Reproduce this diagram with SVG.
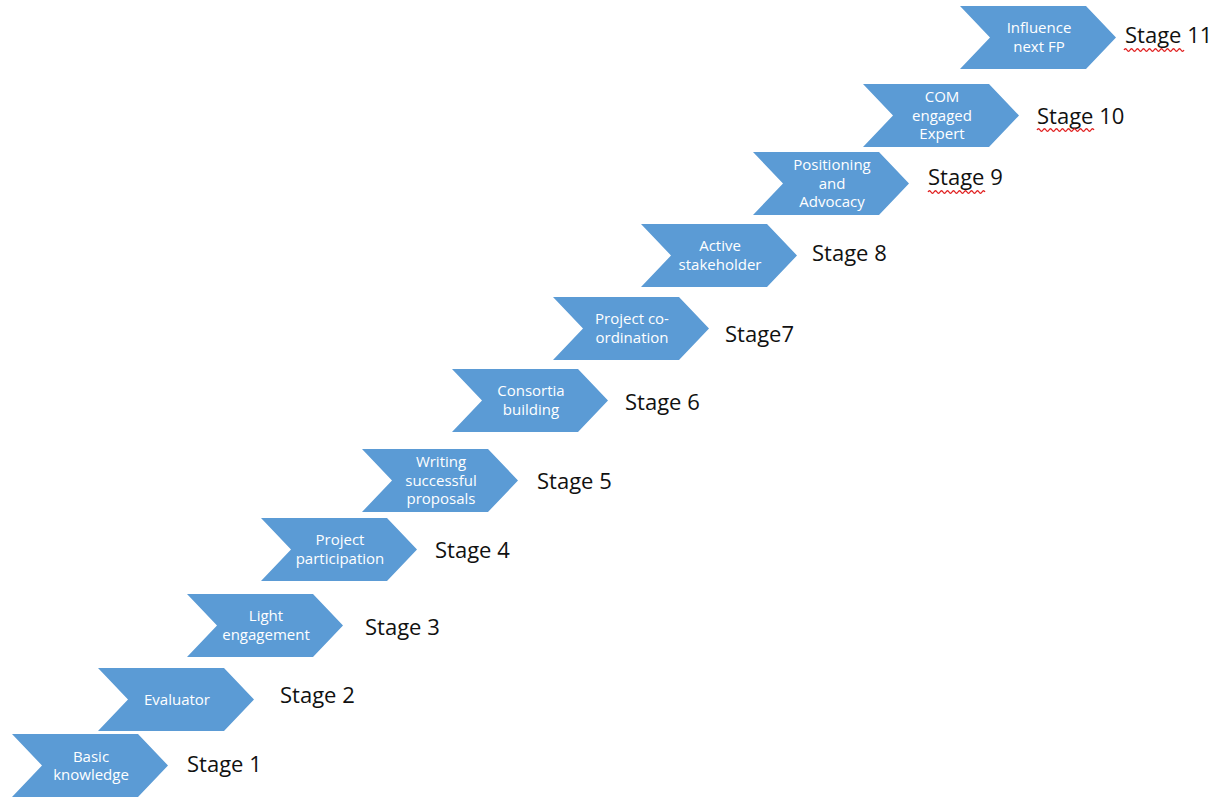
<svg xmlns="http://www.w3.org/2000/svg" xmlns:xlink="http://www.w3.org/1999/xlink" width="1217" height="797" viewBox="0 0 1217 797">
<style>
.chev{fill:#5B9BD5;}
.lbl{font-family:"Open Sans","Liberation Sans",sans-serif;font-size:15px;fill:#ffffff;text-anchor:middle;}
.stage{font-family:"Open Sans","Liberation Sans",sans-serif;font-size:22px;fill:#111111;}
.squig{fill:none;stroke:#e02020;stroke-width:1.3;}
</style>
<defs>
<path id="chev" d="M0,0 H126 L156,31.5 L126,63 H0 L30,31.5 Z"/>
</defs>
<rect width="1217" height="797" fill="#ffffff"/>
<g id="connectors"/>
<g id="stage1">
<use xlink:href="#chev" href="#chev" class="chev" transform="translate(12,734)"/>
<text class="lbl" x="91" y="761.5">Basic<tspan x="91" dy="18.5">knowledge</tspan></text>
<text class="stage" x="187" y="772">Stage 1</text>
</g>
<g id="stage2">
<use xlink:href="#chev" href="#chev" class="chev" transform="translate(98,668)"/>
<text class="lbl" x="177" y="704.5">Evaluator</text>
<text class="stage" x="280" y="703">Stage 2</text>
</g>
<g id="stage3">
<use xlink:href="#chev" href="#chev" class="chev" transform="translate(187,594)"/>
<text class="lbl" x="266" y="621.3">Light<tspan x="266" dy="18.5">engagement</tspan></text>
<text class="stage" x="365" y="635">Stage 3</text>
</g>
<g id="stage4">
<use xlink:href="#chev" href="#chev" class="chev" transform="translate(261,518)"/>
<text class="lbl" x="340" y="545.3">Project<tspan x="340" dy="18.5">participation</tspan></text>
<text class="stage" x="435" y="558">Stage 4</text>
</g>
<g id="stage5">
<use xlink:href="#chev" href="#chev" class="chev" transform="translate(362,449)"/>
<text class="lbl" x="441" y="467">Writing<tspan x="441" dy="18.5">successful</tspan><tspan x="441" dy="18.5">proposals</tspan></text>
<text class="stage" x="537" y="489">Stage 5</text>
</g>
<g id="stage6">
<use xlink:href="#chev" href="#chev" class="chev" transform="translate(452,369)"/>
<text class="lbl" x="531" y="396.3">Consortia<tspan x="531" dy="18.5">building</tspan></text>
<text class="stage" x="625" y="410">Stage 6</text>
</g>
<g id="stage7">
<use xlink:href="#chev" href="#chev" class="chev" transform="translate(553,297)"/>
<text class="lbl" x="632" y="324.3">Project co-<tspan x="632" dy="18.5">ordination</tspan></text>
<text class="stage" x="725" y="342">Stage7</text>
</g>
<g id="stage8">
<use xlink:href="#chev" href="#chev" class="chev" transform="translate(641,224)"/>
<text class="lbl" x="720" y="251.3">Active<tspan x="720" dy="18.5">stakeholder</tspan></text>
<text class="stage" x="812" y="261">Stage 8</text>
</g>
<g id="stage9">
<use xlink:href="#chev" href="#chev" class="chev" transform="translate(753,152)"/>
<text class="lbl" x="832" y="170">Positioning<tspan x="832" dy="18.5">and</tspan><tspan x="832" dy="18.5">Advocacy</tspan></text>
<text class="stage" x="928" y="185">Stage 9</text>
<path class="squig" d="M928,192 q1.5,-2.5 3,0 t3,0 t3,0 t3,0 t3,0 t3,0 t3,0 t3,0 t3,0 t3,0 t3,0 t3,0 t3,0 t3,0 t3,0 t3,0 t3,0 t3,0 t3,0"/>
</g>
<g id="stage10">
<use xlink:href="#chev" href="#chev" class="chev" transform="translate(863,84)"/>
<text class="lbl" x="942" y="102">COM<tspan x="942" dy="18.5">engaged</tspan><tspan x="942" dy="18.5">Expert</tspan></text>
<text class="stage" x="1037" y="124">Stage 10</text>
<path class="squig" d="M1037,130 q1.5,-2.5 3,0 t3,0 t3,0 t3,0 t3,0 t3,0 t3,0 t3,0 t3,0 t3,0 t3,0 t3,0 t3,0 t3,0 t3,0 t3,0 t3,0 t3,0 t3,0"/>
</g>
<g id="stage11">
<use xlink:href="#chev" href="#chev" class="chev" transform="translate(960,6)"/>
<text class="lbl" x="1039" y="33.3">Influence<tspan x="1039" dy="18.5">next FP</tspan></text>
<text class="stage" x="1125" y="43">Stage 11</text>
<path class="squig" d="M1124,50 q1.5,-2.5 3,0 t3,0 t3,0 t3,0 t3,0 t3,0 t3,0 t3,0 t3,0 t3,0 t3,0 t3,0 t3,0 t3,0 t3,0 t3,0 t3,0 t3,0 t3,0 t3,0"/>
</g>
</svg>
